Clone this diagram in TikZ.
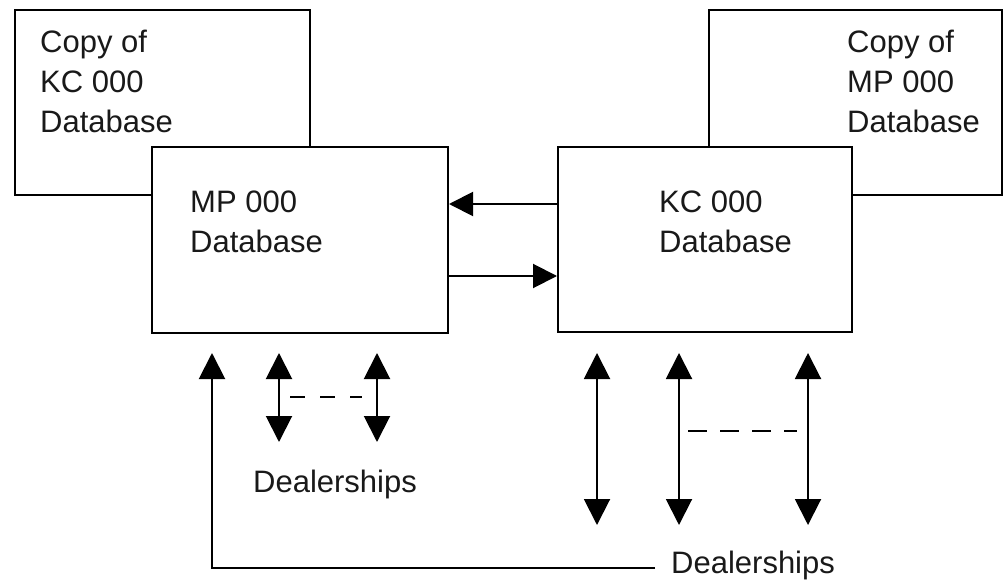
\documentclass[tikz,border=0pt]{standalone}
\usepackage{fontspec}
\setmainfont{Liberation Sans}
\usetikzlibrary{arrows.meta}
\begin{document}
\begin{tikzpicture}[x=1pt,y=-1pt,
  box/.style={draw=black,line width=2pt,fill=white,rectangle,inner sep=0pt,anchor=north west},
  lbl/.style={font=\fontsize{31}{40}\selectfont,inner sep=0pt,anchor=base west,align=left,text=black!90},
  conn/.style={draw=black,line width=2pt},
  tipv/.style={-{Triangle[length=26pt,width=26pt]}},
  dblv/.style={{Triangle[length=26pt,width=26pt]}-{Triangle[length=26pt,width=26pt]}},
  tiph/.style={-{Triangle[length=24pt,width=24pt]}},
  dashA/.style={line width=2pt,dash pattern=on 15pt off 15pt},
  dashB/.style={line width=2pt,dash pattern=on 19pt off 13pt}]
\useasboundingbox (0,0) rectangle (1003,585);
% back boxes
\node[box,minimum width=295pt,minimum height=185pt] (ckc) at (14,9) {};
\node[box,minimum width=293pt,minimum height=185pt] (cmp) at (708,9) {};
% front boxes
\node[box,minimum width=296pt,minimum height=186pt] (mp) at (151,146) {};
\node[box,minimum width=294pt,minimum height=185pt] (kc) at (557,146) {};
% texts (base anchor = baseline of last line)
\node[lbl] (tckc) at (40,133) {Copy of\\KC 000\\Database};
\node[lbl] (tcmp) at (847,133) {Copy of\\MP 000\\Database};
\node[lbl] (tmp) at (190,253) {MP 000\\Database};
\node[lbl] (tkc) at (659,253) {KC 000\\Database};
\node[lbl] (d1) at (253,492) {Dealerships};
\node[lbl] (d2) at (671,573) {Dealerships};
% arrows between databases
\draw[conn,tiph] (kc.west |- 0,204) -- (mp.east |- 0,204);
\draw[conn,tiph] (mp.east |- 0,276) -- (kc.west |- 0,276);
% MP dealerships
\coordinate (m1t) at (279,353); \coordinate (m1b) at (279,442);
\coordinate (m2t) at (377,353); \coordinate (m2b) at (377,442);
\draw[conn,dblv] (m1t) -- (m1b);
\draw[conn,dblv] (m2t) -- (m2b);
\coordinate (ma) at (290,397); \coordinate (mb) at (362,397);
\draw[dashA] (ma) -- (mb);
% KC dealerships
\coordinate (k1t) at (597,353); \coordinate (k1b) at (597,525);
\coordinate (k2t) at (679,353); \coordinate (k2b) at (679,525);
\coordinate (k3t) at (808,353); \coordinate (k3b) at (808,525);
\draw[conn,dblv] (k1t) -- (k1b);
\draw[conn,dblv] (k2t) -- (k2b);
\draw[conn,dblv] (k3t) -- (k3b);
\coordinate (ka) at (688,431); \coordinate (kb) at (797,431);
\draw[dashB] (ka) -- (kb);
% long connector to lower Dealerships
\coordinate (le) at (655,568);
\coordinate (lt) at (212,353);
\draw[conn,tipv] (le) -| (lt);
\end{tikzpicture}
\end{document}
